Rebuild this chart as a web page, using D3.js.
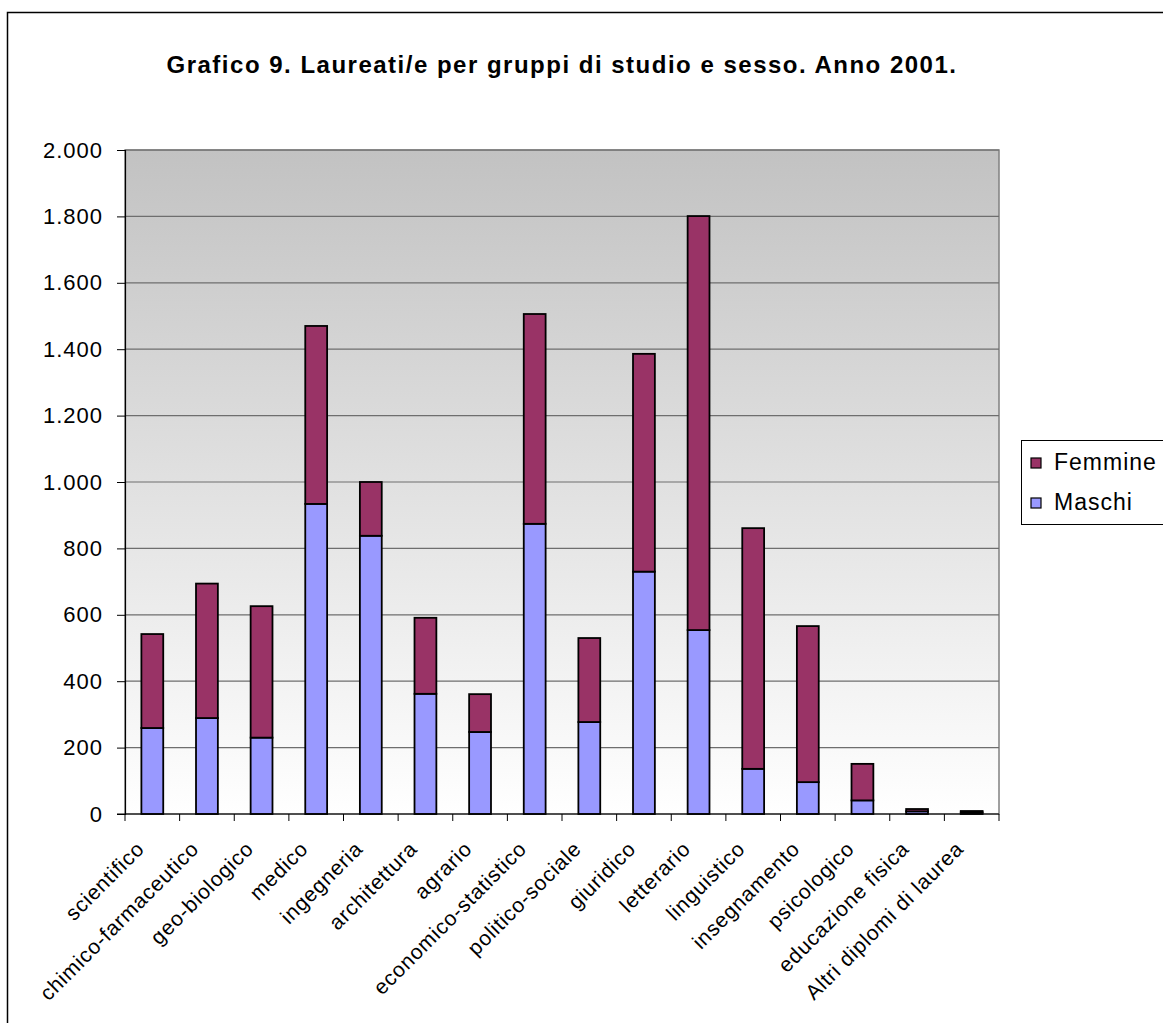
<!DOCTYPE html>
<html>
<head>
<meta charset="utf-8">
<script src="https://cdn.jsdelivr.net/npm/d3@7"></script>
<style>
  body { margin: 0; background: #fff; }
  svg { display: block; font-family: "Liberation Sans", Arial, sans-serif; }
</style>
</head>
<body>
<svg id="chart" width="1163" height="1023"></svg>
<script>
// data
var categories = ["scientifico", "chimico-farmaceutico", "geo-biologico", "medico", "ingegneria",
  "architettura", "agrario", "economico-statistico", "politico-sociale", "giuridico", "letterario",
  "linguistico", "insegnamento", "psicologico", "educazione fisica", "Altri diplomi di laurea"];
var maschi  = [259, 289, 230, 934, 838, 362, 247, 874, 277, 730, 554, 136, 96, 41, 8, 5];
var femmine = [283, 405, 396, 536, 162, 229, 114, 632, 253, 656, 1247, 725, 470, 110, 7, 4];
var yTicks = [0, 200, 400, 600, 800, 1000, 1200, 1400, 1600, 1800, 2000];

var svg = d3.select("#chart"),
  pLeft = 125, pRight = 999, pTop = 150, pBottom = 814;

// outer frame
svg.append("rect").attr("x", 7.5).attr("y", 12.5).attr("width", 1170).attr("height", 1030)
  .attr("fill", "#fff").attr("stroke", "#000").attr("stroke-width", 1.5);

svg.append("text").attr("x", 562).attr("y", 73).attr("text-anchor", "middle")
  .attr("font-size", 24).attr("font-weight", "bold").attr("letter-spacing", 1.5)
  .text("Grafico 9. Laureati/e per gruppi di studio e sesso. Anno 2001.");

var x = d3.scaleBand().domain(categories).range([pLeft, pRight]).paddingInner(0.6).paddingOuter(0.3);
var y = d3.scaleLinear().domain([0, 2000]).range([pBottom, pTop]);

// plot background gradient
var grad = svg.append("defs").append("linearGradient").attr("id", "bg")
  .attr("x1", 0).attr("y1", 0).attr("x2", 0).attr("y2", 1);
grad.append("stop").attr("offset", 0).attr("stop-color", "#c2c2c2");
grad.append("stop").attr("offset", 1).attr("stop-color", "#ffffff");
svg.append("rect").attr("x", pLeft).attr("y", pTop).attr("width", pRight - pLeft).attr("height", pBottom - pTop)
  .attr("fill", "url(#bg)").attr("stroke", "#808080").attr("stroke-width", 1.5);

// gridlines
svg.append("g").selectAll("line").data(yTicks.slice(1)).enter().append("line")
  .attr("x1", pLeft).attr("x2", pRight).attr("y1", function (d) { return y(d); }).attr("y2", function (d) { return y(d); })
  .attr("stroke", "#6e6e6e").attr("stroke-width", 1.2);

// y axis
var yAxis = svg.append("g").attr("transform", "translate(" + pLeft + ",0)")
  .call(d3.axisLeft(y).tickValues(yTicks).tickSize(8).tickPadding(14)
    .tickFormat(function (d) { return d3.format(",")(d).replace(/,/g, "."); }));
yAxis.selectAll("text").attr("font-size", 22).attr("fill", "#000").attr("letter-spacing", 1)
  .attr("font-family", "Liberation Sans, Arial, sans-serif");
yAxis.selectAll("line").attr("stroke", "#000");
yAxis.select(".domain").attr("stroke", "#000").attr("stroke-width", 1.2);

// stacked bars
var step = (pRight - pLeft) / categories.length;
var stack = categories.map(function (c, i) {
  return { cat: c, m: maschi[i], f: femmine[i] };
});
var g = svg.append("g");
g.selectAll("rect.m").data(stack).enter().append("rect")
  .attr("x", function (d) { return x(d.cat); }).attr("width", x.bandwidth())
  .attr("y", function (d) { return y(d.m); }).attr("height", function (d) { return y(0) - y(d.m); })
  .attr("fill", "#9999ff").attr("stroke", "#000").attr("stroke-width", 1.8);
g.selectAll("rect.f").data(stack).enter().append("rect")
  .attr("x", function (d) { return x(d.cat); }).attr("width", x.bandwidth())
  .attr("y", function (d) { return y(d.m + d.f); }).attr("height", function (d) { return y(d.m) - y(d.m + d.f); })
  .attr("fill", "#993366").attr("stroke", "#000").attr("stroke-width", 1.8);

// x axis
svg.append("line").attr("x1", pLeft - 8).attr("x2", pRight).attr("y1", pBottom).attr("y2", pBottom)
  .attr("stroke", "#000").attr("stroke-width", 1.2);
svg.append("g").selectAll("line").data(d3.range(categories.length + 1)).enter().append("line")
  .attr("x1", function (i) { return pLeft + i * step; }).attr("x2", function (i) { return pLeft + i * step; })
  .attr("y1", pBottom).attr("y2", pBottom + 7).attr("stroke", "#000");

svg.append("g").selectAll("text").data(categories).enter().append("text")
  .attr("transform", function (d) { return "translate(" + (x(d) + x.bandwidth() / 2 - 12) + "," + (pBottom + 31) + ")rotate(-45)"; })
  .attr("text-anchor", "end").attr("font-size", 21).attr("letter-spacing", 0.8).attr("dy", "0.35em")
  .text(function (d) { return d; });

// legend
var lg = svg.append("g").attr("transform", "translate(1021,440)");
lg.append("rect").attr("x", 0.5).attr("y", 0.5).attr("width", 160).attr("height", 84)
  .attr("fill", "#fff").attr("stroke", "#000");
var items = [["Femmine", "#993366"], ["Maschi", "#9999ff"]];
items.forEach(function (it, i) {
  lg.append("rect").attr("x", 10).attr("y", 18 + i * 40).attr("width", 10).attr("height", 10)
    .attr("fill", it[1]).attr("stroke", "#000").attr("stroke-width", 1.2);
  lg.append("text").attr("x", 33).attr("y", 30 + i * 40).attr("font-size", 23).attr("letter-spacing", 1).text(it[0]);
});
</script>
</body>
</html>
